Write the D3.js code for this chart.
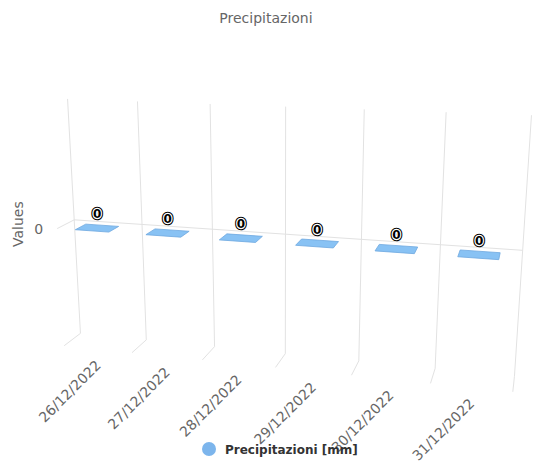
<!DOCTYPE html>
<html>
<head>
<meta charset="utf-8">
<script src="https://cdn.jsdelivr.net/npm/d3@7"></script>
<style>
  body { margin: 0; background: #fff; }
  text { font-family: "DejaVu Sans", Verdana, sans-serif; }
</style>
</head>
<body>
<div id="chart"></div>
<script>
var categories = ["26/12/2022", "27/12/2022", "28/12/2022", "29/12/2022", "30/12/2022", "31/12/2022"];
var values = [0, 0, 0, 0, 0, 0];
var yTicks = [0];
var seriesName = "Precipitazioni [mm]";

var width = 533, height = 461;

// 3d frame
var W = 480, H = 265, D = 40,
    alpha = 15, beta = 15, vd = 1000,
    cx = 280.5, cy = 239;

var rad = Math.PI / 180,
    cosA = Math.cos(alpha * rad), sinA = Math.sin(alpha * rad),
    cosB = Math.cos(-beta * rad), sinB = Math.sin(-beta * rad);

function project(x, y, z) {
    var dx = x - W / 2, dy = y - H / 2, dz = z - D / 2;
    var rx = cosB * dx - sinB * dz,
        ry = -sinA * sinB * dx + cosA * dy - cosB * sinA * dz,
        rz = cosA * sinB * dx + sinA * dy + cosA * cosB * dz;
    var p = vd / (rz + D / 2 + vd);
    return [cx + rx * p, cy + ry * p];
}

var x = d3.scaleBand().domain(categories).range([0, W]);
var y = d3.scaleLinear().domain([-1, 1]).range([H, 0]);

var line = d3.line();

var svg = d3.select("#chart").append("svg")
    .attr("width", width)
    .attr("height", height);

// grid: x boundaries on back wall + floor
var bounds = categories.map(c => x(c)).concat([W]);
var grid = svg.append("g")
    .attr("fill", "none")
    .attr("stroke", "#e2e2e2")
    .attr("stroke-width", 1);

grid.selectAll("path.xgrid")
    .data(bounds)
    .enter().append("path")
    .attr("class", "xgrid")
    .attr("d", b => line([project(b, 0, D), project(b, H, D), project(b, H, 0)]));

// y grid on side wall + back wall
grid.selectAll("path.ygrid")
    .data(yTicks)
    .enter().append("path")
    .attr("class", "ygrid")
    .attr("d", v => line([project(0, y(v), 0), project(0, y(v), D), project(W, y(v), D)]));

// columns (flat for zero values)
var bw = x.bandwidth(),
    colOff = bw * 0.26, colW = bw * 0.48,
    z0 = 0.5, z1 = 25.5;

svg.append("g").selectAll("path.col")
    .data(values)
    .enter().append("path")
    .attr("class", "col")
    .attr("fill", "#88c2f4")
    .attr("stroke", "#6ea8df")
    .attr("stroke-width", 0.8)
    .attr("d", (v, i) => {
        var x0 = x(categories[i]) + colOff, x1 = x0 + colW, yy = y(v);
        return line([project(x0, yy, z0), project(x1, yy, z0), project(x1, yy, z1), project(x0, yy, z1)]) + "Z";
    });

// data labels
var labels = svg.append("g").selectAll("g.dl")
    .data(values)
    .enter().append("g")
    .attr("class", "dl")
    .attr("transform", (v, i) => {
        var p = project(x(categories[i]) + bw / 2, y(v), (z0 + z1) / 2);
        return "translate(" + p[0] + "," + (p[1] - 14) + ")";
    });

[["#000", 4.5], ["#fff", 2.4]].forEach(s => {
    labels.append("text")
        .attr("text-anchor", "middle")
        .attr("dy", "0.36em")
        .attr("font-size", 12)
        .attr("font-weight", "bold")
        .attr("fill", "none")
        .attr("stroke", s[0])
        .attr("stroke-width", s[1])
        .attr("stroke-linejoin", "round")
        .text(v => v);
});
labels.append("text")
    .attr("text-anchor", "middle")
    .attr("dy", "0.36em")
    .attr("font-size", 12)
    .attr("font-weight", "bold")
    .attr("fill", "#000")
    .text(v => v);

// x axis labels
svg.append("g").selectAll("text.xl")
    .data(categories)
    .enter().append("text")
    .attr("class", "xl")
    .attr("text-anchor", "end")
    .attr("font-size", 14)
    .attr("fill", "#666")
    .attr("transform", c => {
        var p = project(x(c) + bw / 2, H, 0);
        return "translate(" + (p[0] + 4) + "," + (p[1] + 17) + ") rotate(-45)";
    })
    .text(c => c);

// y axis labels
svg.append("g").selectAll("text.yl")
    .data(yTicks)
    .enter().append("text")
    .attr("class", "yl")
    .attr("text-anchor", "end")
    .attr("font-size", 14)
    .attr("fill", "#666")
    .attr("x", v => project(0, y(v), 0)[0] - 14)
    .attr("y", v => project(0, y(v), 0)[1] + 5)
    .text(v => v);

svg.append("text")
    .attr("text-anchor", "middle")
    .attr("font-size", 14)
    .attr("fill", "#666")
    .attr("transform", "translate(23," + project(0, y(0), D / 2)[1] + ") rotate(-90)")
    .text("Values");

// title
svg.append("text")
    .attr("x", 266)
    .attr("y", 23)
    .attr("text-anchor", "middle")
    .attr("font-size", 14)
    .attr("fill", "#666")
    .text("Precipitazioni");

// legend
var legend = svg.append("g").attr("transform", "translate(209,449)");
legend.append("circle").attr("r", 7).attr("fill", "#7cb5ec");
legend.append("text")
    .attr("x", 16)
    .attr("y", 5)
    .attr("font-size", 12)
    .attr("font-weight", "bold")
    .attr("fill", "#333")
    .text(seriesName);
</script>
</body>
</html>
